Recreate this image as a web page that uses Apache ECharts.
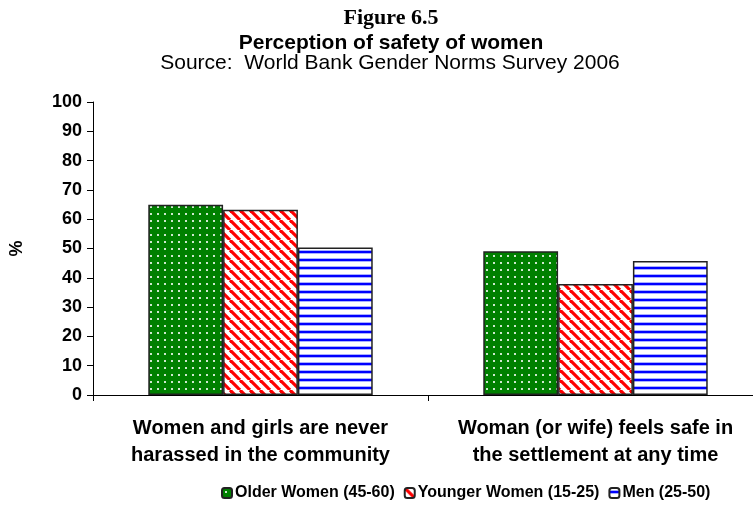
<!DOCTYPE html>
<html>
<head>
<meta charset="utf-8">
<script src="https://cdn.jsdelivr.net/npm/echarts@6/dist/echarts.min.js"></script>
<style>
  html, body { margin: 0; padding: 0; background: #fff; overflow: hidden; }
  /* plot area runs a little past the right edge, as in the original */
  #chart { width: 763px; height: 512px; }
</style>
</head>
<body>
<div id="chart"></div>
<script>
const categories = [
  'Women and girls are never\nharassed in the community',
  'Woman (or wife) feels safe in\nthe settlement at any time'
];
const seriesNames = ['Older Women (45-60)', 'Younger Women (15-25)', 'Men (25-50)'];
const olderWomen = [64.9, 49.1];
const youngerWomen = [63.2, 37.9];
const men = [50.3, 45.7];

// pattern tiles drawn on small canvases
function tile(w, h, draw) {
  const c = document.createElement('canvas');
  c.width = w; c.height = h;
  draw(c.getContext('2d'));
  return { image: c, repeat: 'repeat' };
}
const greenDots = tile(7, 7, g => {
  g.fillStyle = '#008000'; g.fillRect(0, 0, 7, 7);
  g.fillStyle = '#cfe8cf'; g.fillRect(3, 3, 2, 2);
});
const redDiag = tile(10, 10, g => {
  g.fillStyle = '#fff'; g.fillRect(0, 0, 10, 10);
  g.strokeStyle = '#ff0000'; g.lineWidth = 3.2;
  for (let k = -20; k <= 20; k += 10) {
    g.beginPath(); g.moveTo(k, 0); g.lineTo(k + 10, 10); g.stroke();
  }
});
const blueLines = tile(8, 8, g => {
  g.fillStyle = '#fff'; g.fillRect(0, 0, 8, 8);
  g.fillStyle = '#aab0ff'; g.fillRect(0, 2, 8, 4);
  g.fillStyle = '#0000ff'; g.fillRect(0, 3, 8, 2);
});

const fills = [greenDots, redDiag, blueLines];
const values = [olderWomen, youngerWomen, men];

const chart = echarts.init(document.getElementById('chart'));
chart.setOption({
  animation: false,
  textStyle: { fontFamily: 'Liberation Sans, Arial, sans-serif' },
  title: [
    { text: 'Figure 6.5', left: 386, top: 2, textAlign: 'center',
      textStyle: { fontFamily: 'Liberation Serif, Times New Roman, serif', fontSize: 22, fontWeight: 'bold', color: '#000' } },
    { text: 'Perception of safety of women', left: 386, top: 28, textAlign: 'center',
      textStyle: { fontSize: 21, fontWeight: 'bold', color: '#000' } },
    { text: 'Source:  World Bank Gender Norms Survey 2006', left: 385, top: 48, textAlign: 'center',
      textStyle: { fontSize: 21, fontWeight: 'normal', color: '#000' } }
  ],
  legend: {
    bottom: 6, left: 216,
    itemWidth: 10, itemHeight: 10, itemGap: 9,
    textStyle: { fontSize: 16, fontWeight: 'bold', color: '#000', padding: [0, 0, 0, -2] },
    data: seriesNames
  },
  grid: { left: 92, right: 0, top: 102, bottom: 117, containLabel: false },
  xAxis: {
    type: 'category',
    data: categories,
    axisLine: { lineStyle: { color: '#000', width: 1 } },
    axisTick: { show: true, interval: 0, length: 6, lineStyle: { color: '#000' } },
    axisLabel: { interval: 0, fontSize: 20, fontWeight: 'bold', color: '#000', lineHeight: 27, margin: 20 }
  },
  yAxis: {
    type: 'value', min: 0, max: 100, interval: 10,
    name: '%', nameLocation: 'middle', nameRotate: 90, nameGap: 67,
    nameTextStyle: { fontSize: 18, fontWeight: 'bold', color: '#000' },
    axisLine: { show: true, lineStyle: { color: '#000', width: 1 } },
    axisTick: { show: true, length: 6, lineStyle: { color: '#000' } },
    axisLabel: { fontSize: 18, fontWeight: 'bold', color: '#000', margin: 11 },
    splitLine: { show: false }
  },
  series: seriesNames.map((name, i) => ({
    name: name,
    type: 'bar',
    data: values[i],
    barGap: '0%',
    barCategoryGap: '33%',
    itemStyle: { color: fills[i], borderColor: '#222', borderWidth: 1.5 }
  }))
});
</script>
</body>
</html>
